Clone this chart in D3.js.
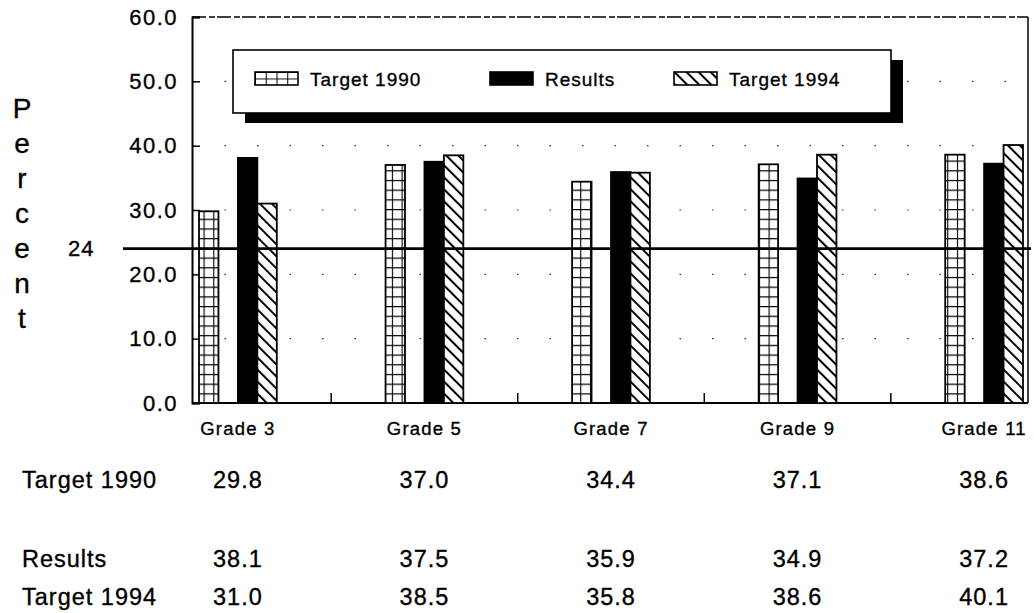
<!DOCTYPE html>
<html>
<head>
<meta charset="utf-8">
<script src="https://cdn.jsdelivr.net/npm/d3@7"></script>
<style>
  html, body { margin: 0; padding: 0; background: #fff; }
  svg { display: block; font-family: "Liberation Sans", Arial, Helvetica, sans-serif; }
  svg text { stroke: #000; stroke-width: 0.35px; fill: #000; }
</style>
</head>
<body>
<svg id="chart" width="1034" height="613"></svg>
<script>
// ---- data ----
const grades = ["Grade 3", "Grade 5", "Grade 7", "Grade 9", "Grade 11"];
const target1990 = [29.8, 37.0, 34.4, 37.1, 38.6];
const results = [38.1, 37.5, 35.9, 34.9, 37.2];
const target1994 = [31.0, 38.5, 35.8, 38.6, 40.1];
const seriesNames = ["Target 1990", "Results", "Target 1994"];
const yTicks = [0, 10, 20, 30, 40, 50, 60];
const referenceValue = 24;
const axisTitle = "Percent";

// ---- layout ----
const svg = d3.select("#chart");
const plot = { left: 192, right: 1028, top: 17, bottom: 403 };

const y = d3.scaleLinear().domain([0, 60]).range([plot.bottom, plot.top]);
const x0 = d3.scaleBand().domain(grades).range([199, 1023]).paddingInner(0.583).paddingOuter(0);
const slots = ["Target 1990", "_gap", "Results", "Target 1994"];
const x1 = d3.scaleBand().domain(slots).range([0, x0.bandwidth()]);

const seriesData = {
  "Target 1990": target1990,
  "Results": results,
  "Target 1994": target1994
};

const defs = svg.append("defs");

// hatch pattern
const hatch = defs.append("pattern")
  .attr("id", "hatch")
  .attr("patternUnits", "userSpaceOnUse")
  .attr("width", 8.5).attr("height", 8.5)
  .attr("patternTransform", "rotate(-45)");
hatch.append("rect").attr("width", 8.5).attr("height", 8.5).attr("fill", "#fff");
hatch.append("line").attr("x1", 1).attr("x2", 1).attr("y1", 0).attr("y2", 8.5)
  .attr("stroke", "#000").attr("stroke-width", 2);

// grid patterns, one per bar, aligned to the bar
const cellW = x1.bandwidth() / 2;
const cellH = 9.7;
grades.forEach((g, i) => {
  const p = defs.append("pattern")
    .attr("id", "grid" + i)
    .attr("patternUnits", "userSpaceOnUse")
    .attr("x", x0(g) + x1("Target 1990"))
    .attr("y", y(0))
    .attr("width", cellW).attr("height", cellH);
  p.append("rect").attr("width", cellW).attr("height", cellH).attr("fill", "#fff");
  p.append("path").attr("d", `M0,0V${cellH}M0,0H${cellW}`)
    .attr("stroke", "#000").attr("stroke-width", 2.2).attr("fill", "none");
});

// legend grid pattern
const lgW = 43, lgH = 13;
const lg = defs.append("pattern")
  .attr("id", "legendGrid")
  .attr("patternUnits", "userSpaceOnUse")
  .attr("x", 255).attr("y", 72)
  .attr("width", lgW / 4).attr("height", lgH / 2);
lg.append("rect").attr("width", lgW / 4).attr("height", lgH / 2).attr("fill", "#fff");
lg.append("path").attr("d", `M0,0V${lgH / 2}M0,0H${lgW / 4}`)
  .attr("stroke", "#000").attr("stroke-width", 2).attr("fill", "none");

// ---- sparse dotted gridlines ----
svg.append("g").selectAll("line")
  .data(yTicks.filter(t => t > 0 && t < 60))
  .join("line")
  .attr("x1", plot.left).attr("x2", plot.right)
  .attr("y1", d => y(d)).attr("y2", d => y(d))
  .attr("stroke", "#333").attr("stroke-width", 1.2)
  .attr("stroke-dasharray", "1.5,31");

// ---- frame ----
svg.append("line").attr("x1", plot.left).attr("x2", plot.right)
  .attr("y1", plot.top).attr("y2", plot.top)
  .attr("stroke", "#000").attr("stroke-width", 1.3).attr("stroke-dasharray", "14,3,6,2");
svg.append("line").attr("x1", plot.right).attr("x2", plot.right)
  .attr("y1", plot.top).attr("y2", plot.bottom)
  .attr("stroke", "#000").attr("stroke-width", 1.5);

// left axis
const yAxis = d3.axisLeft(y).tickValues(yTicks).tickSize(-8).tickPadding(14)
  .tickFormat(d => d.toFixed(1));
const gy = svg.append("g").attr("transform", `translate(${plot.left},0)`).call(yAxis);
gy.select(".domain").attr("stroke", "#000").attr("stroke-width", 2);
gy.selectAll(".tick line").attr("stroke", "#000").attr("stroke-width", 1.5);
gy.selectAll(".tick text")
  .attr("font-size", 22).attr("letter-spacing", 1.5).attr("fill", "#000")
  .attr("font-family", "'Liberation Sans', Arial, sans-serif");

// bottom axis (line + minor ticks between groups + labels)
svg.append("line").attr("x1", plot.left).attr("x2", plot.right)
  .attr("y1", plot.bottom).attr("y2", plot.bottom)
  .attr("stroke", "#000").attr("stroke-width", 2);
const mids = grades.slice(0, -1).map(g => x0(g) + x0.bandwidth() + (x0.step() - x0.bandwidth()) / 2);
svg.append("g").selectAll("line").data(mids).join("line")
  .attr("x1", d => d).attr("x2", d => d)
  .attr("y1", plot.bottom).attr("y2", plot.bottom - 10)
  .attr("stroke", "#000").attr("stroke-width", 1.5);

svg.append("g").selectAll("text").data(grades).join("text")
  .attr("x", d => x0(d) + x0.bandwidth() / 2)
  .attr("y", 435)
  .attr("text-anchor", "middle")
  .attr("font-size", 18.5).attr("letter-spacing", 1.2)
  .text(d => d);

// ---- bars ----
const groups = svg.append("g").selectAll("g").data(grades).join("g")
  .attr("transform", d => `translate(${x0(d)},0)`);

groups.each(function (g, i) {
  const sel = d3.select(this);
  seriesNames.forEach(s => {
    const v = seriesData[s][i];
    let fill = "#000";
    if (s === "Target 1990") fill = `url(#grid${i})`;
    if (s === "Target 1994") fill = "url(#hatch)";
    sel.append("rect")
      .attr("x", x1(s))
      .attr("y", y(v))
      .attr("width", x1.bandwidth())
      .attr("height", y(0) - y(v))
      .attr("fill", fill)
      .attr("stroke", "#000")
      .attr("stroke-width", 1.8);
  });
});

// ---- reference line at 24 ----
svg.append("line")
  .attr("x1", 123).attr("x2", 1031)
  .attr("y1", y(referenceValue)).attr("y2", y(referenceValue))
  .attr("stroke", "#000").attr("stroke-width", 2.6);
svg.append("text")
  .attr("x", 68).attr("y", y(referenceValue) + 7)
  .attr("font-size", 22).attr("letter-spacing", 1)
  .text(referenceValue);

// ---- legend ----
const legend = svg.append("g");
legend.append("rect").attr("x", 245).attr("y", 60).attr("width", 658).attr("height", 63).attr("fill", "#000");
legend.append("rect").attr("x", 233).attr("y", 50).attr("width", 658).attr("height", 63)
  .attr("fill", "#fff").attr("stroke", "#000").attr("stroke-width", 1.6);
const legendItems = [
  { name: seriesNames[0], sx: 255, fill: "url(#legendGrid)" },
  { name: seriesNames[1], sx: 490, fill: "#000" },
  { name: seriesNames[2], sx: 674, fill: "url(#hatch)" }
];
legend.selectAll("g.item").data(legendItems).join("g").attr("class", "item")
  .each(function (d) {
    const g = d3.select(this);
    g.append("rect").attr("x", d.sx).attr("y", 72).attr("width", lgW).attr("height", lgH)
      .attr("fill", d.fill).attr("stroke", "#000").attr("stroke-width", 1.6);
    g.append("text").attr("x", d.sx + 55).attr("y", 86)
      .attr("font-size", 19).attr("letter-spacing", 1)
      .text(d.name);
  });

// ---- vertical axis title ----
svg.append("g").selectAll("text").data(axisTitle.split("")).join("text")
  .attr("x", 22).attr("y", (d, i) => 118 + i * 35)
  .attr("text-anchor", "middle")
  .attr("font-size", 28)
  .text(d => d);

// ---- data table ----
const tableRows = [
  { name: seriesNames[0], values: target1990, yb: 488 },
  { name: seriesNames[1], values: results, yb: 567 },
  { name: seriesNames[2], values: target1994, yb: 605 }
];
const table = svg.append("g");
tableRows.forEach(r => {
  table.append("text").attr("x", 22).attr("y", r.yb)
    .attr("font-size", 23.5).attr("letter-spacing", 1)
    .text(r.name);
  table.selectAll(null).data(r.values).join("text")
    .attr("x", (d, i) => x0(grades[i]) + x0.bandwidth() / 2)
    .attr("y", r.yb)
    .attr("text-anchor", "middle")
    .attr("font-size", 23.5).attr("letter-spacing", 1)
    .text(d => d.toFixed(1));
});
</script>
</body>
</html>
